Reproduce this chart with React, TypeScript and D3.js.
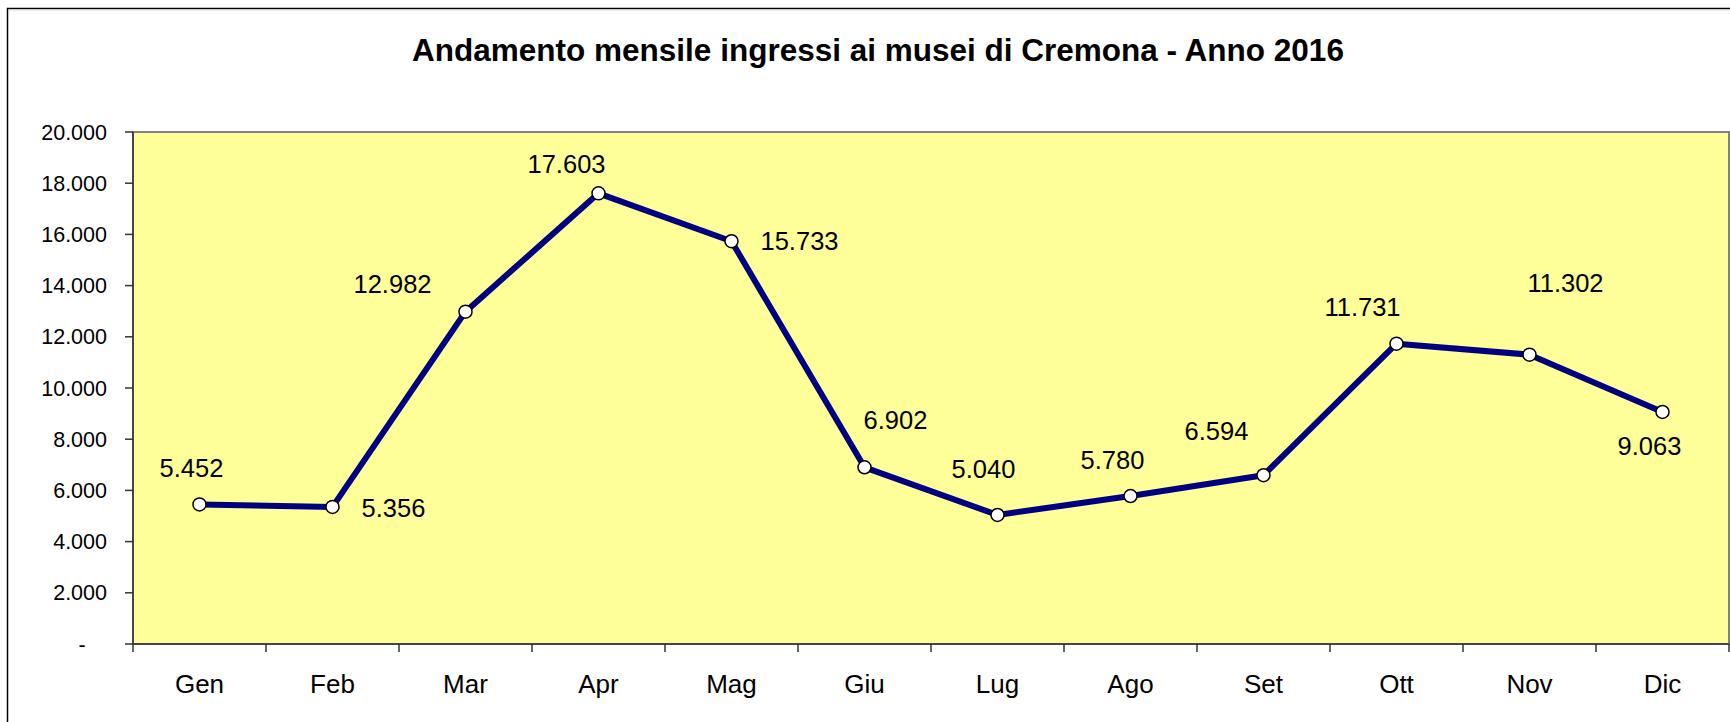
import React from "react";
import * as d3 from "d3";

const months = ["Gen", "Feb", "Mar", "Apr", "Mag", "Giu", "Lug", "Ago", "Set", "Ott", "Nov", "Dic"];
const visitors = [5452, 5356, 12982, 17603, 15733, 6902, 5040, 5780, 6594, 11731, 11302, 9063];
const yTicks = [0, 2000, 4000, 6000, 8000, 10000, 12000, 14000, 16000, 18000, 20000];
const title = "Andamento mensile ingressi ai musei di Cremona - Anno 2016";

// label placement offsets (layout): [dx to text centre, dy to baseline]
const labelOffsets: [number, number][] = [
  [-8, -27], [61, 10], [-73, -19], [-32, -20], [68, 9], [31, -38],
  [-14, -37], [-18, -27], [-47, -35], [-34, -28], [36, -63], [-13, 43],
];

const W = 1730, H = 722;
const plot = { left: 133, right: 1729, top: 132, bottom: 644 };
const FONT = "'Liberation Sans', Arial, Helvetica, sans-serif";

const fmt = (v: number) => (v === 0 ? "-" : d3.format(",")(v).replace(/,/g, "."));

export default function App() {
  const x = d3.scaleBand<string>().domain(months).range([plot.left, plot.right]);
  const y = d3.scaleLinear().domain([0, 20000]).range([plot.bottom, plot.top]);
  const cx = (m: string) => (x(m) as number) + x.bandwidth() / 2;

  const line = d3
    .line<number>()
    .x((_, i) => cx(months[i]))
    .y((d) => y(d));

  const boundaries = months.map((m) => x(m) as number).concat([plot.right]);

  return (
    <svg
      width={W}
      height={H}
      style={{ position: "absolute", left: 0, top: 0, background: "#fff" }}
      fontFamily={FONT}
    >
      <rect x={0} y={0} width={W} height={H} fill="#fff" />
      {/* outer chart frame */}
      <rect x={7.5} y={8.5} width={W + 20} height={H + 20} fill="none" stroke="#000" strokeWidth={1.5} />
      <line x1={9} y1={10} x2={W} y2={10} stroke="#d8d8d8" strokeWidth={1} />

      <text x={878} y={61} textAnchor="middle" fontSize={31.5} fontWeight="bold" fill="#000">
        {title}
      </text>

      {/* plot area */}
      <rect
        x={plot.left}
        y={plot.top}
        width={plot.right - plot.left}
        height={plot.bottom - plot.top}
        fill="#FFFF99"
        stroke="#808080"
        strokeWidth={2}
      />
      <line x1={plot.left} y1={plot.top} x2={plot.left} y2={plot.bottom} stroke="#333" strokeWidth={1.5} />
      <line x1={plot.left} y1={plot.bottom} x2={plot.right} y2={plot.bottom} stroke="#333" strokeWidth={1.5} />

      {/* y axis */}
      {yTicks.map((t) => (
        <g key={t}>
          <line x1={plot.left - 8} x2={plot.left} y1={y(t)} y2={y(t)} stroke="#333" strokeWidth={1.5} />
          <text
            x={t === 0 ? 82 : 107}
            y={y(t)}
            dy="0.35em"
            textAnchor={t === 0 ? "middle" : "end"}
            fontSize={21.5}
            fill="#000"
          >
            {fmt(t)}
          </text>
        </g>
      ))}

      {/* x axis */}
      {boundaries.map((b, i) => (
        <line key={i} x1={b} x2={b} y1={plot.bottom} y2={plot.bottom + 8} stroke="#333" strokeWidth={1.5} />
      ))}
      {months.map((m) => (
        <text key={m} x={cx(m)} y={693} textAnchor="middle" fontSize={26} fill="#000">
          {m}
        </text>
      ))}

      {/* series */}
      <path d={line(visitors) || ""} fill="none" stroke="#000080" strokeWidth={6} strokeLinejoin="round" />
      {visitors.map((v, i) => (
        <circle key={i} cx={cx(months[i])} cy={y(v)} r={6.5} fill="#fff" stroke="#000" strokeWidth={1.5} />
      ))}
      {visitors.map((v, i) => (
        <text
          key={"l" + i}
          x={cx(months[i]) + labelOffsets[i][0]}
          y={y(v) + labelOffsets[i][1]}
          textAnchor="middle"
          fontSize={25.5}
          fill="#000"
        >
          {fmt(v)}
        </text>
      ))}
    </svg>
  );
}
